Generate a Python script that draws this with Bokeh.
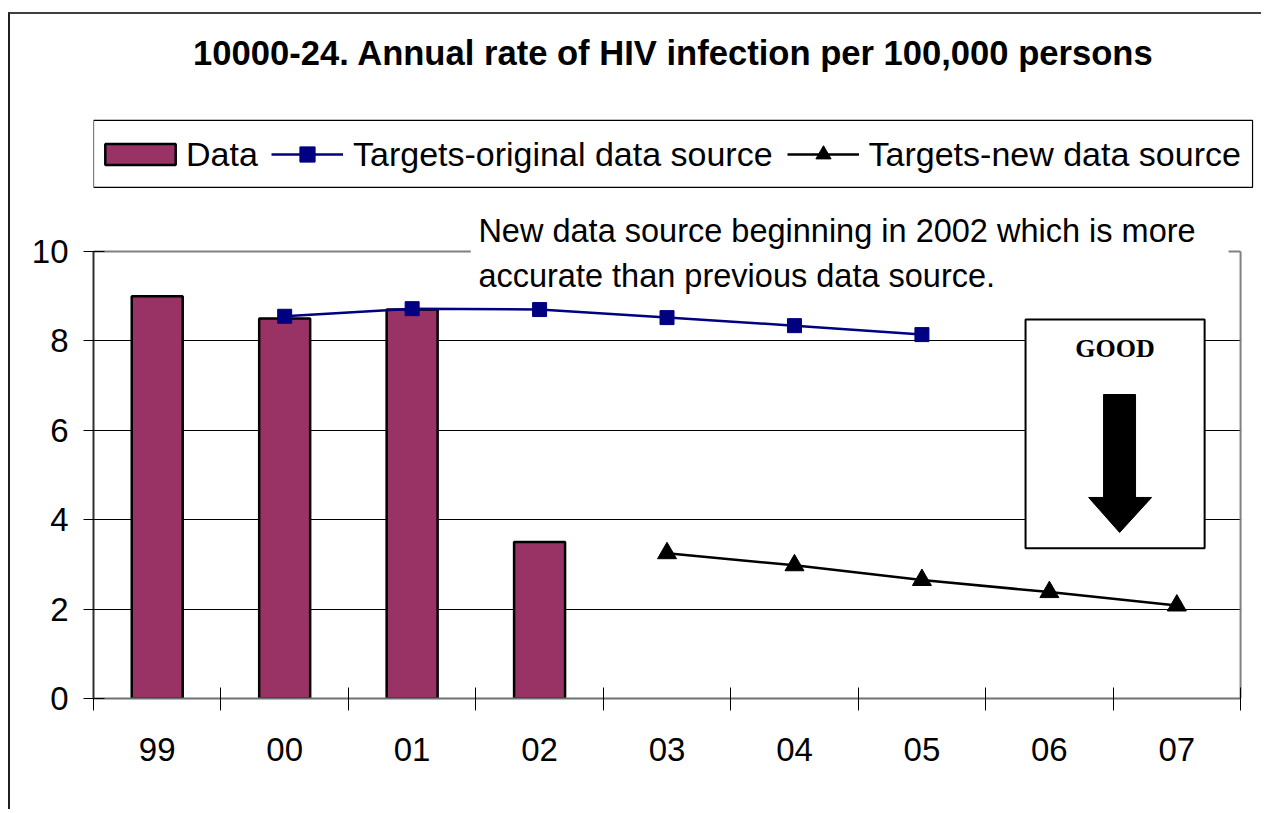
from bokeh.plotting import figure
from bokeh.models import (Range1d, FixedTicker, Legend, LegendItem, Label,
                          ColumnDataSource)
from bokeh.embed import file_html
from bokeh.resources import INLINE

# ---- data ----
categories = ["99", "00", "01", "02", "03", "04", "05", "06", "07"]
bar_cats = ["99", "00", "01", "02"]
bar_values = [9.0, 8.5, 8.7, 3.5]
orig_cats = ["00", "01", "02", "03", "04", "05"]
orig_values = [8.55, 8.72, 8.7, 8.52, 8.34, 8.14]
new_cats = ["03", "04", "05", "06", "07"]
new_values = [3.25, 2.98, 2.65, 2.38, 2.08]
y_ticks = [0, 2, 4, 6, 8, 10]
y_max = 10

title_text = "10000-24. Annual rate of HIV infection per 100,000 persons"
note_lines = ["New data source beginning in 2002 which is more",
              "accurate than previous data source."]
legend_labels = ["Data", "Targets-original data source", "Targets-new data source"]

FONT = "Liberation Sans"
n = len(categories)

pos = {c: i + 0.5 for i, c in enumerate(categories)}
bars_src = ColumnDataSource(dict(x=[pos[c] for c in bar_cats], top=bar_values))
orig_src = ColumnDataSource(dict(x=[pos[c] for c in orig_cats], y=orig_values))
new_src = ColumnDataSource(dict(x=[pos[c] for c in new_cats], y=new_values))

# frame extends over the title/legend area so those can be drawn inside it
p = figure(width=1253, height=797, output_backend="svg", toolbar_location=None,
           x_range=Range1d(0, 9.18), y_range=Range1d(0, 15.30),
           min_border_left=83, min_border_top=0, min_border_right=0,
           min_border_bottom=113)
p.styles = {"border-top": "2px solid #404040", "border-left": "2px solid #202020",
            "margin-top": "12px", "margin-left": "8px"}
p.background_fill_color = "white"
p.border_fill_color = "white"
p.outline_line_color = None

# grid
p.xgrid.visible = False
p.ygrid.ticker = FixedTicker(ticks=[2, 4, 6, 8])
p.ygrid.grid_line_color = "black"
p.ygrid.grid_line_width = 1

# y axis
yax = p.yaxis[0]
yax.ticker = FixedTicker(ticks=y_ticks)
yax.bounds = (0, y_max)
yax.axis_line_color = "#303030"
yax.axis_line_width = 2
yax.major_tick_in = 11
yax.major_tick_out = 10
yax.major_tick_line_color = "black"
yax.minor_tick_line_color = None
yax.major_label_text_font = FONT
yax.major_label_text_font_size = "33px"
yax.major_label_text_color = "black"
yax.major_label_standoff = 15

# x axis
xax = p.xaxis[0]
centers = [pos[c] for c in categories]
bounds = list(range(n + 1))
xax.ticker = FixedTicker(ticks=centers, minor_ticks=bounds)
xax.bounds = (0, n)
xax.major_label_overrides = {pos[c]: c for c in categories}
xax.axis_line_color = "#707070"
xax.axis_line_width = 2
xax.major_tick_line_color = None
xax.major_tick_in = 0
xax.major_tick_out = 0
xax.minor_tick_line_color = "black"
xax.minor_tick_in = 11
xax.minor_tick_out = 12
xax.major_label_text_font = FONT
xax.major_label_text_font_size = "33px"
xax.major_label_text_color = "black"
xax.major_label_standoff = 27

# plot-area border (top and right), grey; cover grid beyond right border
p.quad(left=[n + 0.005], right=[n + 0.5], top=[y_max + 0.5], bottom=[-0.5],
       fill_color="white", line_color=None)
p.segment(x0=[0, n], y0=[y_max, 0], x1=[n, n], y1=[y_max, y_max],
          line_color="#808080", line_width=2)

# legend frame
p.quad(left=[0.0], right=[9.094], top=[12.931], bottom=[11.432],
       fill_color="white", line_color="black", line_width=1.2)

# bars
bar_r = p.vbar(x="x", top="top", bottom=0, width=0.4, source=bars_src,
               fill_color="#993366", line_color="black", line_width=2.5)

# target lines
ol = p.line("x", "y", source=orig_src, line_color="#000080", line_width=2.5)
om = p.scatter("x", "y", source=orig_src, marker="square", size=14,
               fill_color="#000080", line_color="#000080")
nl = p.line("x", "y", source=new_src, line_color="black", line_width=2.5)
nm = p.scatter("x", "y", source=new_src, marker="triangle", size=19,
               fill_color="black", line_color="black")

# GOOD box with arrow
p.quad(left=[7.313], right=[8.718], top=[8.479], bottom=[3.362],
       fill_color="white", line_color="black", line_width=2)
p.quad(left=[7.925], right=[8.176], top=[6.80], bottom=[4.49],
       fill_color="black", line_color="black", line_width=1)
p.patch([7.808, 8.302, 8.051], [4.497, 4.497, 3.714],
        fill_color="black", line_color="black", line_width=1)
p.add_layout(Label(x=8.015, y=7.84, text="GOOD", text_font="Liberation Serif",
                   text_font_style="bold", text_font_size="26px",
                   text_align="center", text_baseline="middle", text_color="black"))

# note text with white background (hides the top border)
p.quad(left=[2.96], right=[8.906], top=[10.95], bottom=[9.0],
       fill_color="white", line_color=None)
for i, t in enumerate(note_lines):
    p.add_layout(Label(x=3.02, y=10.457 - i * 1.007, text=t, text_font=FONT,
                       text_font_size="32.5px", text_baseline="middle",
                       text_color="black"))

# title
p.add_layout(Label(x=4.551, y=14.43, text=title_text, text_font=FONT,
                   text_font_style="bold", text_font_size="34.6px",
                   text_align="center", text_baseline="middle", text_color="black"))


def style_legend(lg):
    lg.orientation = "horizontal"
    lg.label_text_font = FONT
    lg.label_text_font_size = "34px"
    lg.label_text_color = "black"
    lg.label_height = 44
    lg.padding = 0
    lg.margin = 0
    lg.border_line_color = None
    lg.background_fill_alpha = 0.0


legend_a = Legend(items=[LegendItem(label=legend_labels[0], renderers=[bar_r])],
                  location=(3, 522))
style_legend(legend_a)
legend_a.glyph_width = 88
legend_a.glyph_height = 26
legend_a.label_standoff = 2
p.add_layout(legend_a, "center")

legend_b = Legend(items=[
    LegendItem(label=legend_labels[1], renderers=[ol, om]),
    LegendItem(label=legend_labels[2], renderers=[nl, nm]),
], location=(178, 522))
style_legend(legend_b)
legend_b.glyph_width = 72
legend_b.glyph_height = 38
legend_b.label_standoff = 10
legend_b.spacing = 14
p.add_layout(legend_b, "center")

open("out.html", "w").write(file_html(p, INLINE))
